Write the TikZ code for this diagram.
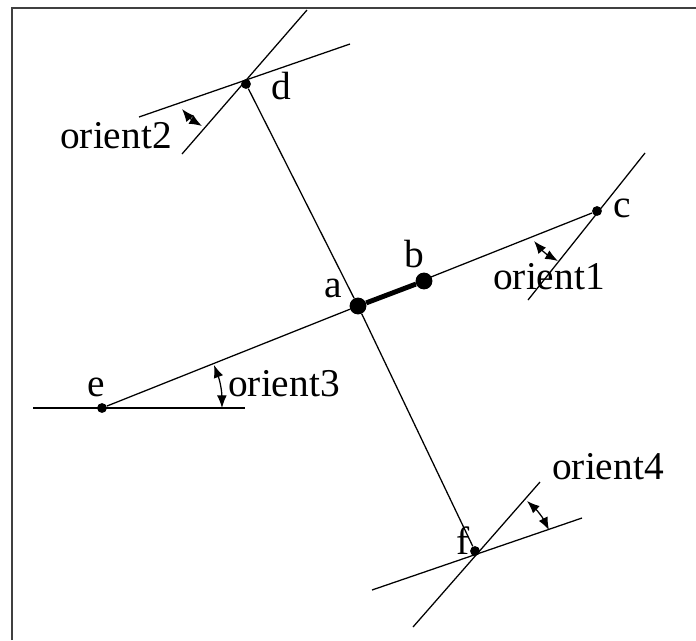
\documentclass[tikz,border=0pt]{standalone}
\usepackage{fontspec}
\setmainfont{Liberation Serif}
\usepackage{tikz}
\usetikzlibrary{arrows.meta}

\begin{document}
\begin{tikzpicture}[
  x=0.025cm, y=-0.025cm,
  dot/.style={circle, fill=black, inner sep=0pt, minimum size=7pt},
  bigdot/.style={circle, fill=black, inner sep=0pt, minimum size=12pt},
  lbl/.style={inner sep=0pt, font=\fontsize{28}{30}\selectfont},
  ln/.style={draw, line width=0.9pt},
  arr/.style={draw, line width=0.9pt, {Latex[length=9pt,width=7pt]}-{Latex[length=9pt,width=7pt]}},
]
\useasboundingbox (0,0) rectangle (696,640);
% --- frame (cut off at right and bottom) ---
\draw[line width=2pt, black!75] (12,640) -- (12,8) -- (696,8);
% --- points ---
\node[bigdot] (a) at (358,306) {};
\node[bigdot] (b) at (424,281) {};
\node[dot] (c) at (597,211) {};
\node[dot] (d) at (246,84) {};
\node[dot] (e) at (102,408) {};
\node[dot] (f) at (475,551) {};
% --- main links ---
\draw[ln] (e) -- (a);
\draw[ln] (a) -- (c);
\draw[ln] (d) -- (a);
\draw[ln] (a) -- (f);
\draw[line width=3.5pt] (a) -- (b);
% --- orientation lines ---
\coordinate (d1) at (139,117); \coordinate (d2) at (350,44);
\coordinate (d3) at (182,154); \coordinate (d4) at (307,10);
\coordinate (c1) at (528,300); \coordinate (c2) at (645,153);
\coordinate (e1) at (33,408);  \coordinate (e2) at (245,408);
\coordinate (f1) at (372,590); \coordinate (f2) at (582,518);
\coordinate (f3) at (413,627); \coordinate (f4) at (540,482);
\draw[ln] (d1) -- (d2);
\draw[ln] (d3) -- (d4);
\draw[ln] (c1) -- (c2);
\draw[ln] (e1) -- (e2);
\draw[ln] (f1) -- (f2);
\draw[ln] (f3) -- (f4);
% --- angle arrows ---
\coordinate (o2a) at (182,109); \coordinate (o2b) at (202,126);
\coordinate (o1a) at (534,241); \coordinate (o1b) at (558,261);
\coordinate (o3a) at (214,365); \coordinate (o3b) at (222,408);
\coordinate (o4a) at (527,501); \coordinate (o4b) at (549,530);
\draw[arr] (o2a) to[bend right=10] (o2b);
\draw[arr] (o1a) to[bend right=10] (o1b);
\draw[arr] (o3a) to[bend left=10] (o3b);
\draw[arr] (o4a) to[bend left=10] (o4b);
% --- labels ---
\node[lbl] (la) at (333,288) {a};
\node[lbl] (lb) at (414,254) {b};
\node[lbl] (lc) at (622,208) {c};
\node[lbl] (ld) at (281,86) {d};
\node[lbl] (le) at (96,387) {e};
\node[lbl] (lf) at (463,541) {f};
\node[lbl] (or1) at (549,277) {orient1};
\node[lbl] (or2) at (116,136) {orient2};
\node[lbl] (or3) at (284,384) {orient3};
\node[lbl] (or4) at (608,467) {orient4};
\end{tikzpicture}
\end{document}
